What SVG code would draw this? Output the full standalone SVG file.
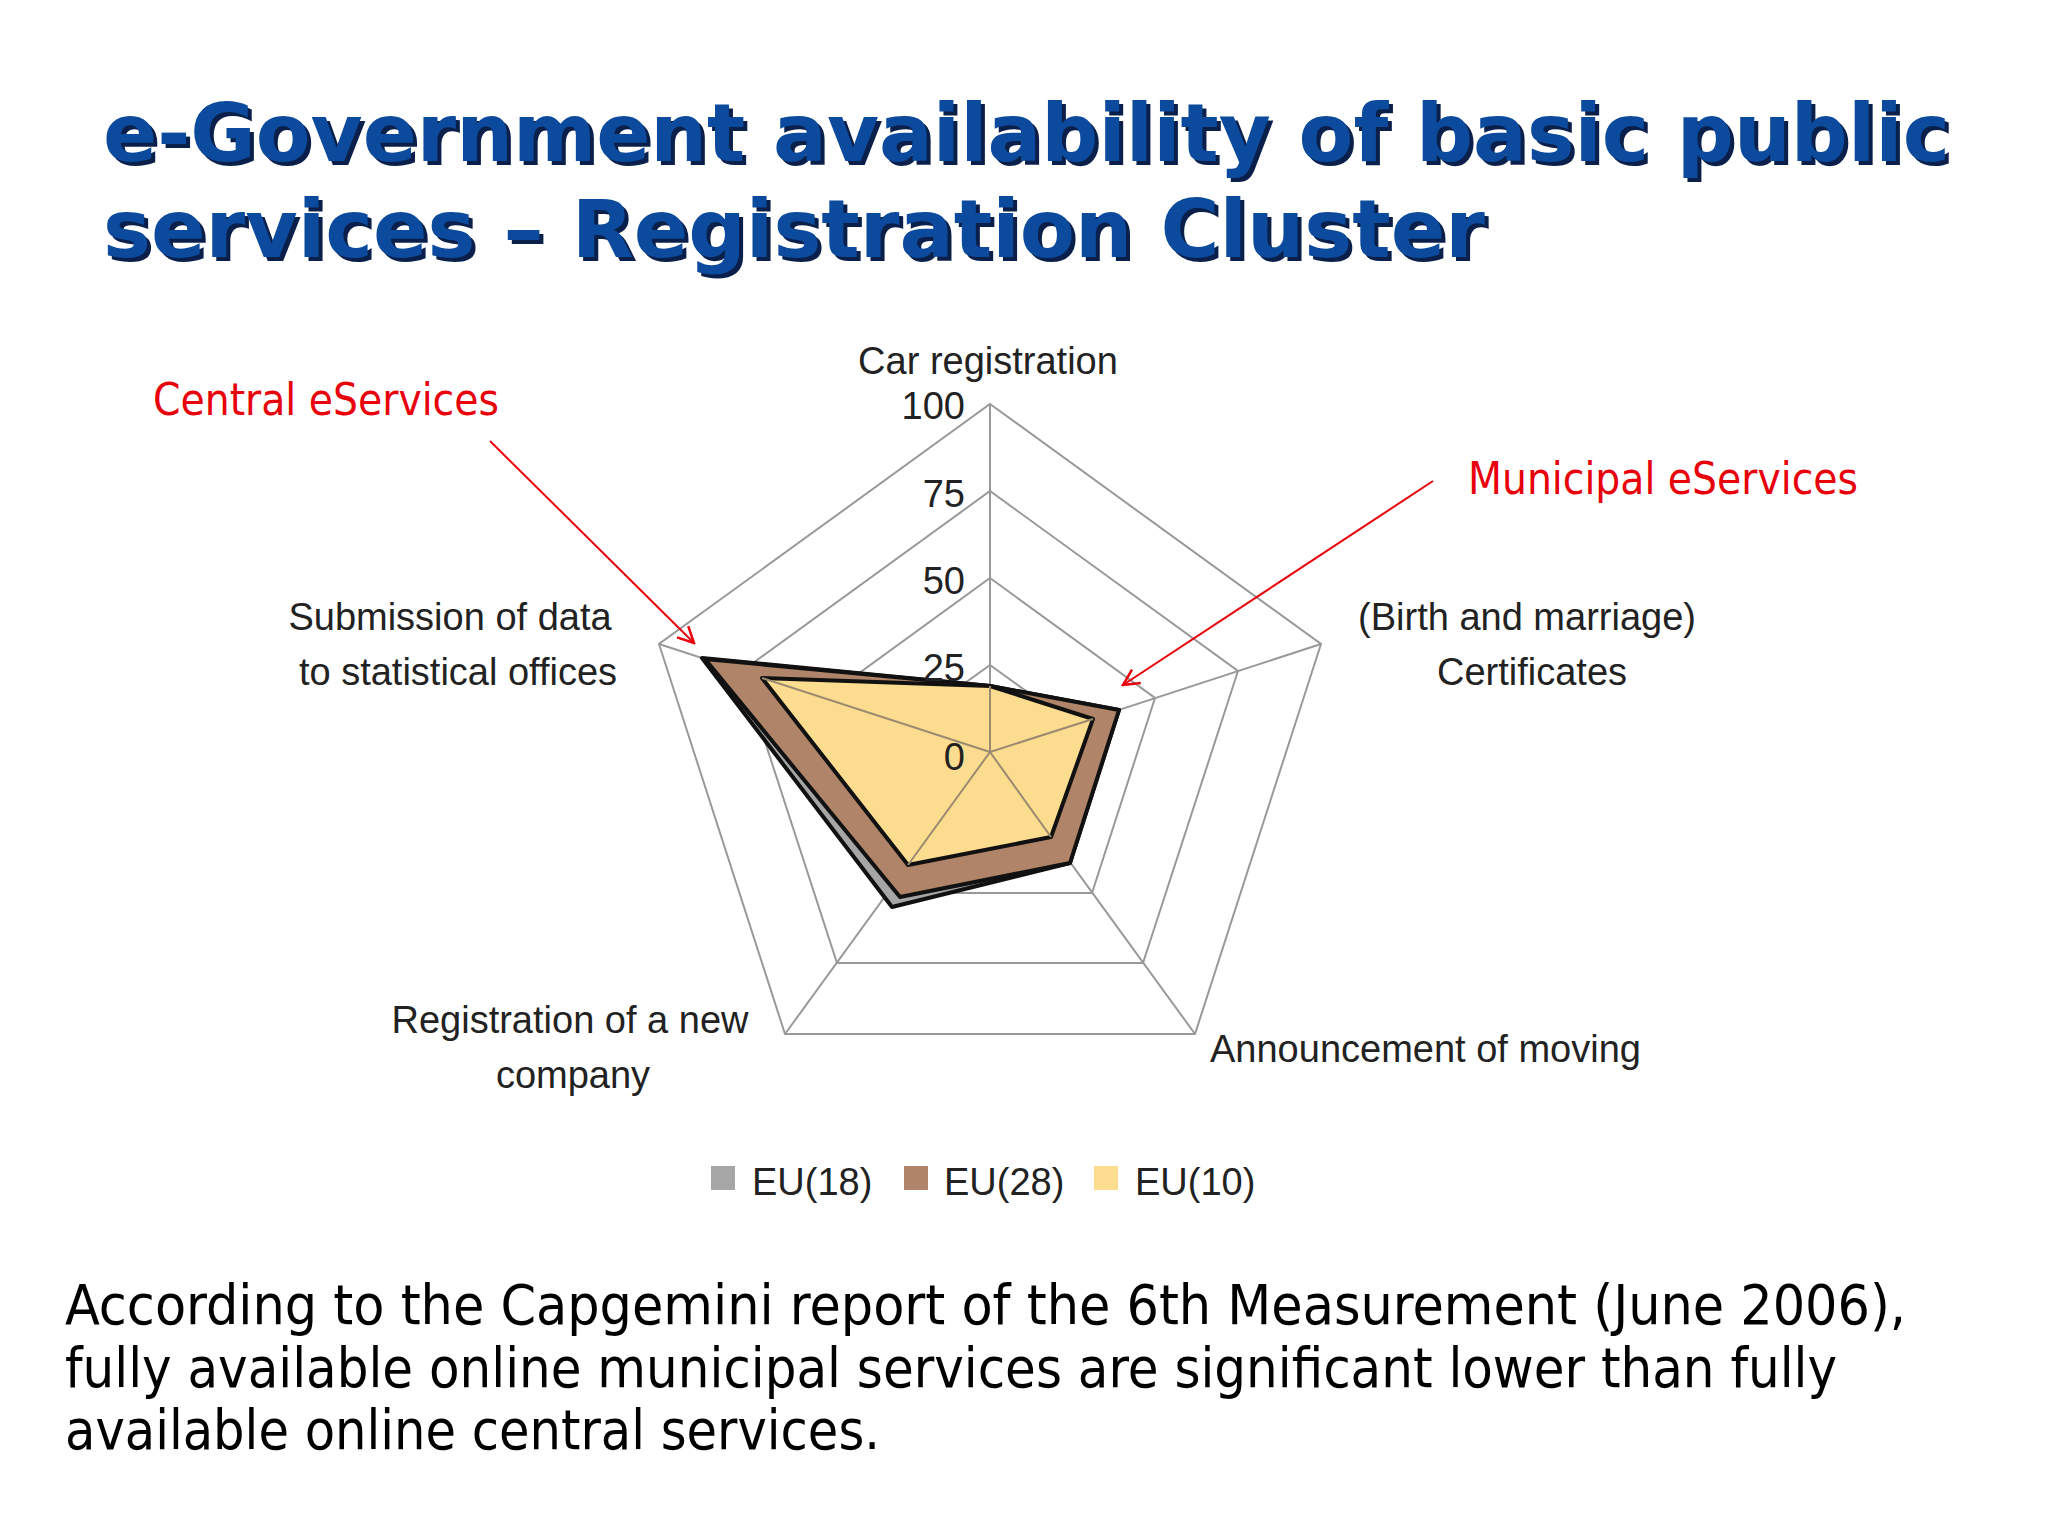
<svg xmlns="http://www.w3.org/2000/svg" width="2048" height="1536" viewBox="0 0 2048 1536">
<defs>
<style>
.t{font-family:"DejaVu Sans",Verdana,sans-serif;font-weight:bold;font-size:80px}
.ax{font-family:"Liberation Sans",Arial,sans-serif;font-size:38px;fill:#222}
.red{font-family:"DejaVu Sans Condensed","Liberation Sans",sans-serif;font-size:44px;fill:#e8000b}
.body{font-family:"DejaVu Sans Condensed","Liberation Sans",sans-serif;font-size:56px;fill:#000}
.grid{fill:none;stroke:#999;stroke-width:2}
</style>
<marker id="ah" viewBox="0 0 20 20" refX="18" refY="10" markerWidth="20" markerHeight="20" markerUnits="userSpaceOnUse" orient="auto"><path d="M2,2 L18,10 L2,18" fill="none" stroke="#e8000b" stroke-width="2.5"/></marker>
</defs>
<rect width="2048" height="1536" fill="#fff"/>
<g id="title">
<text class="t" x="107" y="165" fill="#0a1f4a" textLength="1847" lengthAdjust="spacingAndGlyphs">e-Government availability of basic public</text>
<text class="t" x="107" y="261" fill="#0a1f4a" textLength="1382" lengthAdjust="spacingAndGlyphs">services – Registration Cluster</text>
<text class="t" x="103" y="161" fill="#0b4a9c" textLength="1847" lengthAdjust="spacingAndGlyphs">e-Government availability of basic public</text>
<text class="t" x="103" y="257" fill="#0b4a9c" textLength="1382" lengthAdjust="spacingAndGlyphs">services – Registration Cluster</text>
</g>
<g id="chart" transform="translate(990,752)">
<g id="grid">
<polygon class="grid" points="0,-348 331,-108 205,282 -205,282 -331,-108"/>
<polygon class="grid" points="0,-261 248,-81 153,211 -153,211 -248,-81"/>
<polygon class="grid" points="0,-174 165,-54 102,141 -102,141 -165,-54"/>
<polygon class="grid" points="0,-87 83,-27 51,70 -51,70 -83,-27"/>
<path class="grid" d="M0,0 L0,-348 M0,0 L331,-108 M0,0 L205,282 M0,0 L-205,282 M0,0 L-331,-108"/>
</g>
<polygon id="eu18" points="0,-66 129,-42 80,111 -98,155 -288,-94" fill="#a6a6a6" stroke="#111" stroke-width="4" stroke-linejoin="round"/>
<polygon id="eu28" points="0,-66 129,-42 80,111 -90,145 -285,-93" fill="#b08468" stroke="#111" stroke-width="4" stroke-linejoin="round"/>
<polygon id="eu10" points="0,-66 103,-33 61,85 -82,113 -228,-74" fill="#fcdc8e" stroke="#111" stroke-width="4" stroke-linejoin="round"/>
<path class="grid" d="M0,0 L0,-66 M0,0 L103,-33 M0,0 L61,85 M0,0 L-82,113 M0,0 L-228,-74" style="stroke:#9a8a70"/>
<g class="ax" text-anchor="end">
<text x="-25" y="-333">100</text>
<text x="-25" y="-245">75</text>
<text x="-25" y="-158">50</text>
<text x="-25" y="-71">25</text>
<text x="-25" y="18">0</text>
</g>
</g>
<g id="labels" class="ax" text-anchor="middle">
<text x="988" y="374">Car registration</text>
<text x="450" y="630">Submission of data</text>
<text x="458" y="685">to statistical offices</text>
<text x="1527" y="630">(Birth and marriage)</text>
<text x="1532" y="685">Certificates</text>
<text x="570" y="1033">Registration of a new</text>
<text x="573" y="1088">company</text>
<text x="1210" y="1062" text-anchor="start">Announcement of moving</text>
</g>
<g id="legend" class="ax">
<rect x="711" y="1166" width="24" height="24" fill="#a6a6a6"/>
<text x="752" y="1195">EU(18)</text>
<rect x="904" y="1166" width="24" height="24" fill="#b08468"/>
<text x="944" y="1195">EU(28)</text>
<rect x="1094" y="1166" width="24" height="24" fill="#fcdc8e"/>
<text x="1135" y="1195">EU(10)</text>
</g>
<g id="central"><text class="red" x="153" y="415" textLength="346" lengthAdjust="spacingAndGlyphs">Central eServices</text></g>
<g id="municipal"><text class="red" x="1468" y="494" textLength="390" lengthAdjust="spacingAndGlyphs">Municipal eServices</text></g>
<g id="connectors" stroke="#e8000b" stroke-width="2" fill="none">
<line x1="490" y1="441" x2="694" y2="643" marker-end="url(#ah)"/>
<line x1="1433" y1="481" x2="1123" y2="685" marker-end="url(#ah)"/>
</g>
<g id="body" class="body">
<text x="65" y="1324" textLength="1841" lengthAdjust="spacingAndGlyphs">According to the Capgemini report of the 6th Measurement (June 2006),</text>
<text x="65" y="1387" textLength="1772" lengthAdjust="spacingAndGlyphs">fully available online municipal services are significant lower than fully</text>
<text x="65" y="1449" textLength="815" lengthAdjust="spacingAndGlyphs">available online central services.</text>
</g>
</svg>
